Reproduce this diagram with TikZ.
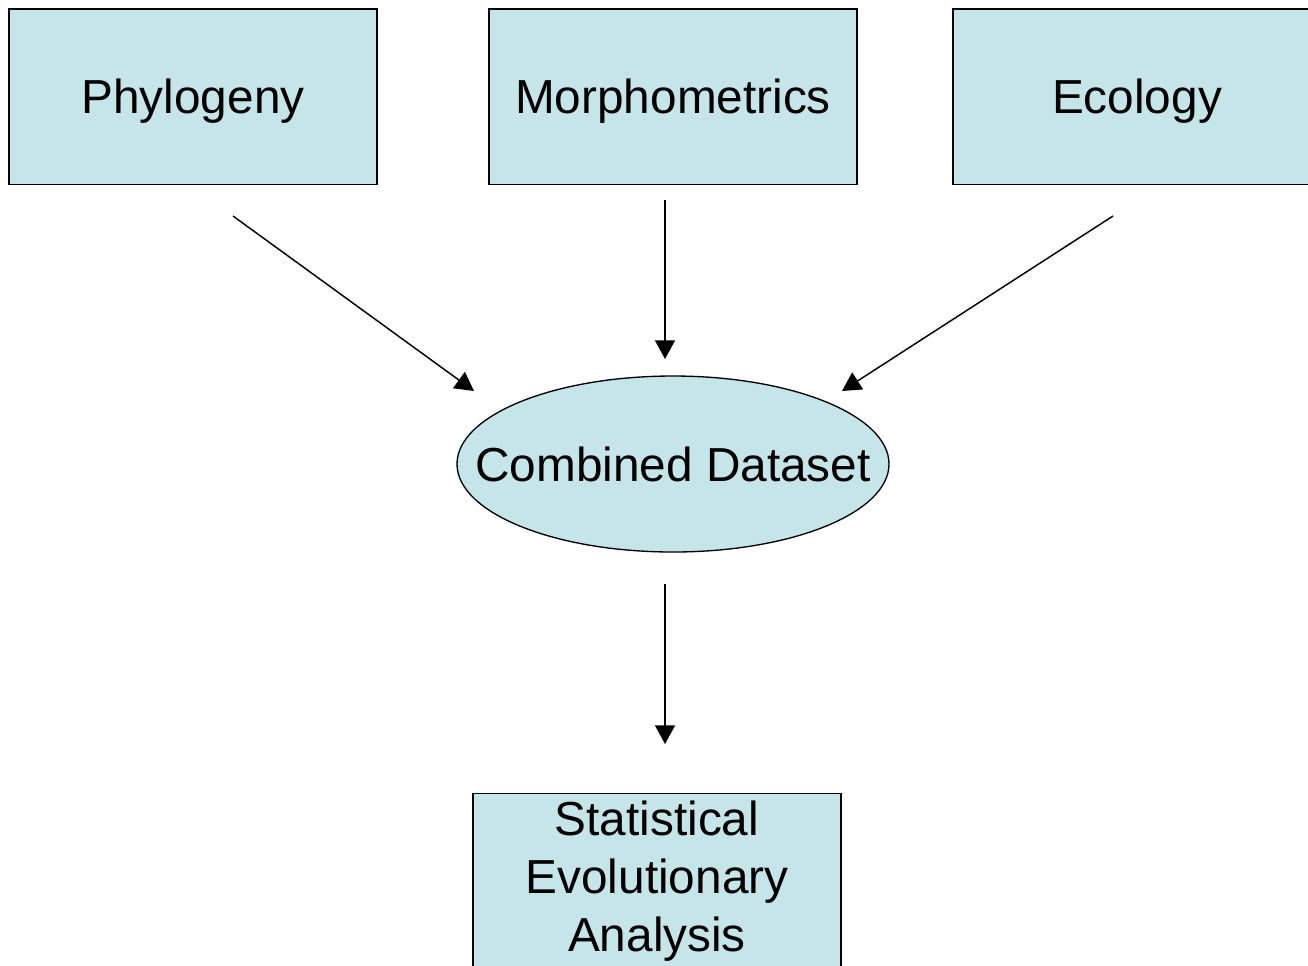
\documentclass[tikz,border=0pt]{standalone}
\usepackage{fontspec}
\setmainfont{Liberation Sans}
\usetikzlibrary{shapes.geometric,arrows.meta}
\definecolor{boxfill}{HTML}{C5E5E8}
\tikzset{
  box/.style={draw=black, line width=1pt, fill=boxfill, minimum width=276pt, minimum height=131.5pt, inner sep=0pt, font=\fontsize{35.8}{43.5}\selectfont, align=center},
  oneline/.style={text height=25.6pt, text depth=0pt},
  oval/.style={draw=black, line width=1pt, fill=boxfill, ellipse, minimum width=324pt, minimum height=132pt, inner sep=0pt, font=\fontsize{35.8}{43.5}\selectfont},
  arr/.style={line width=1.1pt, -{Triangle[length=14pt,width=15pt]}}
}
\begin{document}
\begin{tikzpicture}[x=0.75pt,y=-0.75pt]
\clip (0,0) rectangle (1308,965);
\fill[white] (0,0) rectangle (1308,965);
\node[box,oneline] (phy) at (193,96.5) {Phylogeny};
\node[box,oneline] (mor) at (673,96.5) {Morphometrics};
\node[box,oneline] (eco) at (1137,96.5) {Ecology};
\node[oval,text height=25.6pt,text depth=0pt] (comb) at (673,464) {\makebox[0pt]{Combined Dataset}};
\node[box] (stat) at (657,881) {\rule{0pt}{0pt}\raisebox{-2pt}{Statistical}\\\raisebox{-2pt}{Evolutionary}\\\raisebox{-2pt}{Analysis}};
\coordinate (a1s) at (233,216);
\coordinate (a1e) at (474,391);
\coordinate (a2s) at (665,200);
\coordinate (a2e) at (665,359);
\coordinate (a3s) at (1113,216);
\coordinate (a3e) at (842,391);
\coordinate (a4s) at (665,584);
\coordinate (a4e) at (665,744);
\draw[arr] (a1s) -- (a1e);
\draw[arr] (a2s) -- (a2e);
\draw[arr] (a3s) -- (a3e);
\draw[arr] (a4s) -- (a4e);
\end{tikzpicture}
\end{document}
